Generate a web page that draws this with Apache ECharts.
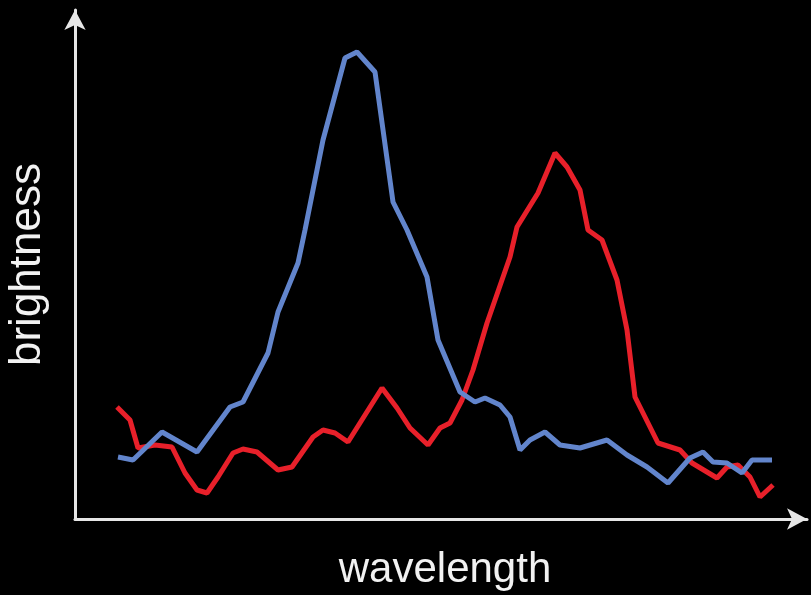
<!DOCTYPE html>
<html>
<head>
<meta charset="utf-8">
<script src="https://cdn.jsdelivr.net/npm/echarts@6/dist/echarts.min.js"></script>
<style>
  html, body { margin: 0; padding: 0; background: #000; }
  #chart { width: 811px; height: 595px; }
</style>
</head>
<body>
<div id="chart"></div>
<script>
// wavelength (arbitrary units) vs brightness (arbitrary units)
var blueWave = [43, 58, 87, 122, 155, 168, 193, 203, 223, 230, 248, 270, 282, 300, 318, 332, 352, 363, 385, 400, 410, 425, 435, 445, 455, 470, 485, 505, 532, 552, 572, 593, 615, 628, 638, 652, 667, 677, 697];
var blueBright = [62, 59, 87, 67, 112, 117, 166, 207, 256, 289, 379, 461, 467, 447, 317, 289, 242, 179, 127, 117, 121, 114, 102, 69, 79, 87, 74, 71, 79, 64, 52, 36, 61, 67, 57, 56, 46, 59, 59];

var redWave = [42, 55, 63, 80, 97, 110, 122, 132, 143, 158, 168, 182, 203, 217, 238, 248, 260, 273, 307, 322, 335, 353, 365, 375, 387, 398, 412, 435, 442, 463, 480, 492, 505, 513, 527, 542, 552, 560, 583, 605, 617, 642, 652, 663, 675, 685, 698];
var redBright = [112, 99, 71, 74, 72, 46, 29, 26, 42, 66, 70, 67, 49, 52, 82, 89, 86, 77, 131, 111, 91, 74, 91, 96, 119, 149, 196, 262, 292, 326, 366, 352, 329, 289, 279, 239, 189, 122, 76, 69, 56, 41, 52, 54, 42, 22, 34];

function pairs(xs, ys) {
  var out = [];
  for (var i = 0; i < xs.length; i++) {
    out.push([xs[i], ys[i]]);
  }
  return out;
}

var axisColor = '#e6e6e6';
var axisLine = {
  show: true,
  symbol: ['none', 'arrow'],
  symbolSize: [16, 20],
  lineStyle: { color: axisColor, width: 3 }
};

var option = {
  backgroundColor: '#000',
  animation: false,
  grid: { left: 75, right: 4, top: 10, bottom: 76, outerBoundsMode: 'none' },
  xAxis: {
    type: 'value',
    min: 0,
    max: 732,
    name: 'wavelength',
    nameLocation: 'middle',
    nameGap: 30,
    nameTextStyle: {
      color: '#f2f2f2', fontFamily: 'Liberation Sans', fontSize: 42,
      padding: [0, 0, 0, 8]
    },
    axisLine: axisLine,
    axisTick: { show: false },
    axisLabel: { show: false },
    splitLine: { show: false }
  },
  yAxis: {
    type: 'value',
    min: 0,
    max: 509,
    name: 'brightness',
    nameLocation: 'middle',
    nameGap: 25,
    nameTextStyle: {
      color: '#f2f2f2', fontFamily: 'Liberation Sans', fontSize: 44
    },
    axisLine: axisLine,
    axisTick: { show: false },
    axisLabel: { show: false },
    splitLine: { show: false }
  },
  series: [
    {
      name: 'red',
      type: 'line',
      data: pairs(redWave, redBright),
      symbol: 'none',
      lineStyle: { color: '#e8202a', width: 5 }
    },
    {
      name: 'blue',
      type: 'line',
      data: pairs(blueWave, blueBright),
      symbol: 'none',
      lineStyle: { color: '#6285cc', width: 5 }
    }
  ]
};

var myChart = echarts.init(document.getElementById('chart'));
myChart.setOption(option);
</script>
</body>
</html>
